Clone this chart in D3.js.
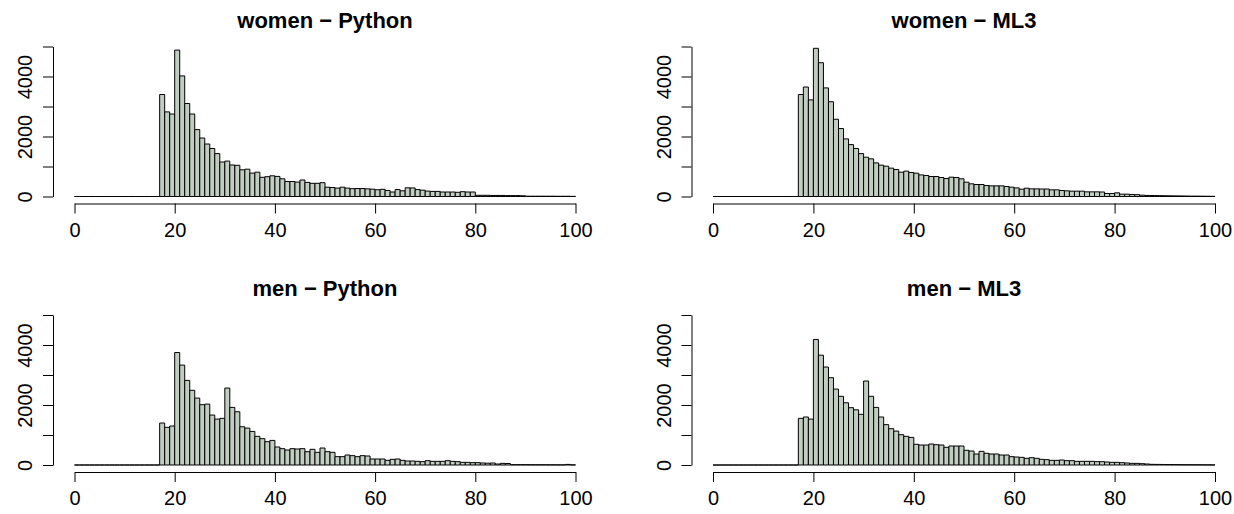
<!DOCTYPE html>
<html>
<head>
<meta charset="utf-8">
<script src="https://cdn.jsdelivr.net/npm/d3@7"></script>
<style>
  body { margin: 0; background: #fff; }
  text { font-family: "Liberation Sans", Arial, sans-serif; fill: #000; }
</style>
</head>
<body>
<div id="chart"></div>
<script>
// counts per 1-year bin, ages 0..99 (first 17 bins empty)
const womenPython = [0,0,0,0,0,0,0,0,0,0,0,0,0,0,0,0,0,
  3400,2820,2750,4880,4020,3100,2750,2230,1950,1750,1600,1430,1150,1180,1050,1040,890,910,780,810,
  640,660,690,670,590,500,500,480,550,470,440,440,460,310,300,280,310,280,260,265,265,255,245,225,
  240,200,150,230,190,290,285,230,210,180,170,170,150,150,150,140,160,150,150,40,40,40,35,35,35,30,
  30,30,25,10,10,10,10,10,10,8,8,8,5];
const womenML3 = [0,0,0,0,0,0,0,0,0,0,0,0,0,0,0,0,0,
  3400,3650,3220,4940,4460,3620,3160,2575,2265,1920,1730,1600,1430,1310,1255,1120,1045,1010,945,900,
  810,845,800,777,720,700,666,666,633,600,644,633,590,477,422,400,400,366,355,355,355,333,311,288,
  244,277,255,255,250,250,222,222,200,189,178,178,178,155,155,155,150,100,100,122,78,78,67,60,44,35,
  33,30,28,25,22,20,18,15,13,12,10,8,6];
const menPython = [0,0,0,0,0,0,0,0,0,0,0,0,0,0,0,0,0,
  1400,1255,1300,3750,3330,2820,2490,2230,2010,2030,1665,1530,1555,2565,1920,1775,1275,1230,1120,955,
  877,777,820,600,544,500,544,533,544,444,522,422,566,444,422,278,278,333,311,278,311,300,200,200,
  200,155,189,200,155,133,133,122,111,144,122,122,122,144,122,111,89,89,78,78,67,60,67,33,55,50,
  11,11,10,10,8,8,8,6,6,5,5,20,4];
const menML3 = [0,0,0,0,0,0,0,0,0,0,0,0,0,0,0,0,0,
  1555,1600,1530,4185,3660,3265,2910,2530,2290,2075,1910,1840,1690,2800,2290,1920,1600,1345,1210,1130,
  1010,955,920,690,666,666,700,677,666,590,633,633,633,490,466,366,455,390,366,366,333,333,278,266,
  255,222,244,222,189,178,155,155,166,144,144,122,122,122,122,111,111,100,89,89,78,67,55,55,44,33,
  22,20,18,15,14,12,10,9,8,7,6,5,4];

const titles = ["women \u2212 Python", "women \u2212 ML3", "men \u2212 Python", "men \u2212 ML3"];
const series = [womenPython, womenML3, menPython, menML3];
const xTicks = [0, 20, 40, 60, 80, 100];
const yTicks = [0, 1000, 2000, 3000, 4000, 5000];
const yLabels = [0, 2000, 4000];

const W = 1234, H = 514;
const colX = [[74.5, 575.5], [713, 1215]];
const rowY = [196.5, 465];
const plotH = 150;
const font = '"Liberation Sans", Arial, sans-serif';

const svg = d3.select("#chart").append("svg")
    .attr("width", W)
    .attr("height", H);

series.forEach((counts, i) => {
  const col = i % 2, row = Math.floor(i / 2);
  const x = d3.scaleLinear().domain([0, 100]).range(colX[col]);
  const y = d3.scaleLinear().domain([0, 5000]).range([rowY[row], rowY[row] - plotH]);

  const g = svg.append("g");

  // bars (paths so empty bins still draw as a line)
  g.append("g")
    .selectAll("path")
    .data(counts)
    .join("path")
      .attr("d", (d, j) => {
        const x0 = x(j), x1 = x(j + 1), y0 = y(0), y1 = y(d);
        return `M${x0},${y0}V${y1}H${x1}V${y0}Z`;
      })
      .attr("fill", "#c1cdc1")
      .attr("stroke", "#000")
      .attr("stroke-width", 1);

  // x axis
  const xa = g.append("g")
      .attr("transform", `translate(0,${rowY[row] + 7})`)
      .call(d3.axisBottom(x).tickValues(xTicks).tickSizeOuter(0).tickSizeInner(10));
  xa.select(".domain").attr("stroke", "#000");
  xa.selectAll("text")
      .attr("font-size", 20)
      .style("font-family", font)
      .attr("y", 33).attr("dy", 0);

  // y axis
  const ya = g.append("g")
      .attr("transform", `translate(${colX[col][0] - 21.5},0)`)
      .call(d3.axisLeft(y).tickValues(yTicks).tickSizeOuter(0).tickSizeInner(10)
        .tickFormat(d => yLabels.includes(d) ? d : ""));
  ya.select(".domain").attr("stroke", "#000");
  ya.selectAll("text")
      .attr("font-size", 20)
      .style("font-family", font)
      .attr("text-anchor", "middle")
      .attr("x", 0).attr("dy", 0)
      .attr("transform", "translate(-21,0) rotate(-90)");

  // title
  g.append("text")
      .attr("x", (colX[col][0] + colX[col][1]) / 2)
      .attr("y", rowY[row] - 169)
      .attr("text-anchor", "middle")
      .attr("font-size", 22)
      .attr("font-weight", "bold")
      .text(titles[i]);
});
</script>
</body>
</html>
